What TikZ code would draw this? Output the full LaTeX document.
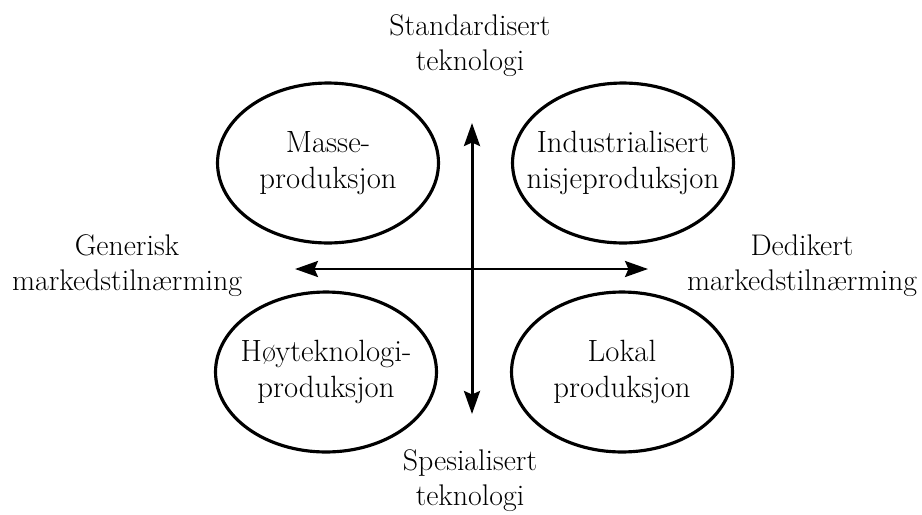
\documentclass[tikz,border=0pt]{standalone}
\usepackage{fontspec}
\usetikzlibrary{arrows.meta, shapes.geometric}

\tikzset{
  field/.style={draw, ellipse, line width=1.8pt, minimum width=4.42cm,
                minimum height=3.2cm, inner xsep=-0.4cm, inner ysep=0pt,
                align=center, font=\fontsize{17.5}{20.5}\selectfont},
  axislabel/.style={align=center, font=\fontsize{17}{20}\selectfont},
}

\begin{document}
\begin{tikzpicture}[>={Stealth[length=0.46cm, width=0.32cm, inset=0.07cm]},
                    x=0.02cm, y=-0.02cm]
  \useasboundingbox (0,0) rectangle (922,514);

  % Quadrants
  \node[field] (masse)  at (328,163) {Masse-\\produksjon};
  \node[field] (nisje)  at (623,163) {Industrialisert\\nisjeproduksjon};
  \node[field] (hoytek) at (326,372) {Høyteknologi-\\produksjon};
  \node[field] (lokal)  at (622,372) {Lokal\\produksjon};

  % Axis ends
  \coordinate (top)    at (472,123);
  \coordinate (bottom) at (472,414);
  \coordinate (left)   at (295,269);
  \coordinate (right)  at (648,269);

  % Axes
  \draw[<->, line width=1.7pt] (top) -- (bottom);
  \draw[<->, line width=1.5pt] (left) -- (right);

  % Labels
  \node[axislabel] (standard) at (470,46)  {Standardisert\\teknologi};
  \node[axislabel] (spesial)  at (470,481) {Spesialisert\\teknologi};
  \node[axislabel] (generisk) at (127,266) {Generisk\\markedstilnærming};
  \node[axislabel] (dedikert) at (802,266) {Dedikert\\markedstilnærming};
\end{tikzpicture}
\end{document}
